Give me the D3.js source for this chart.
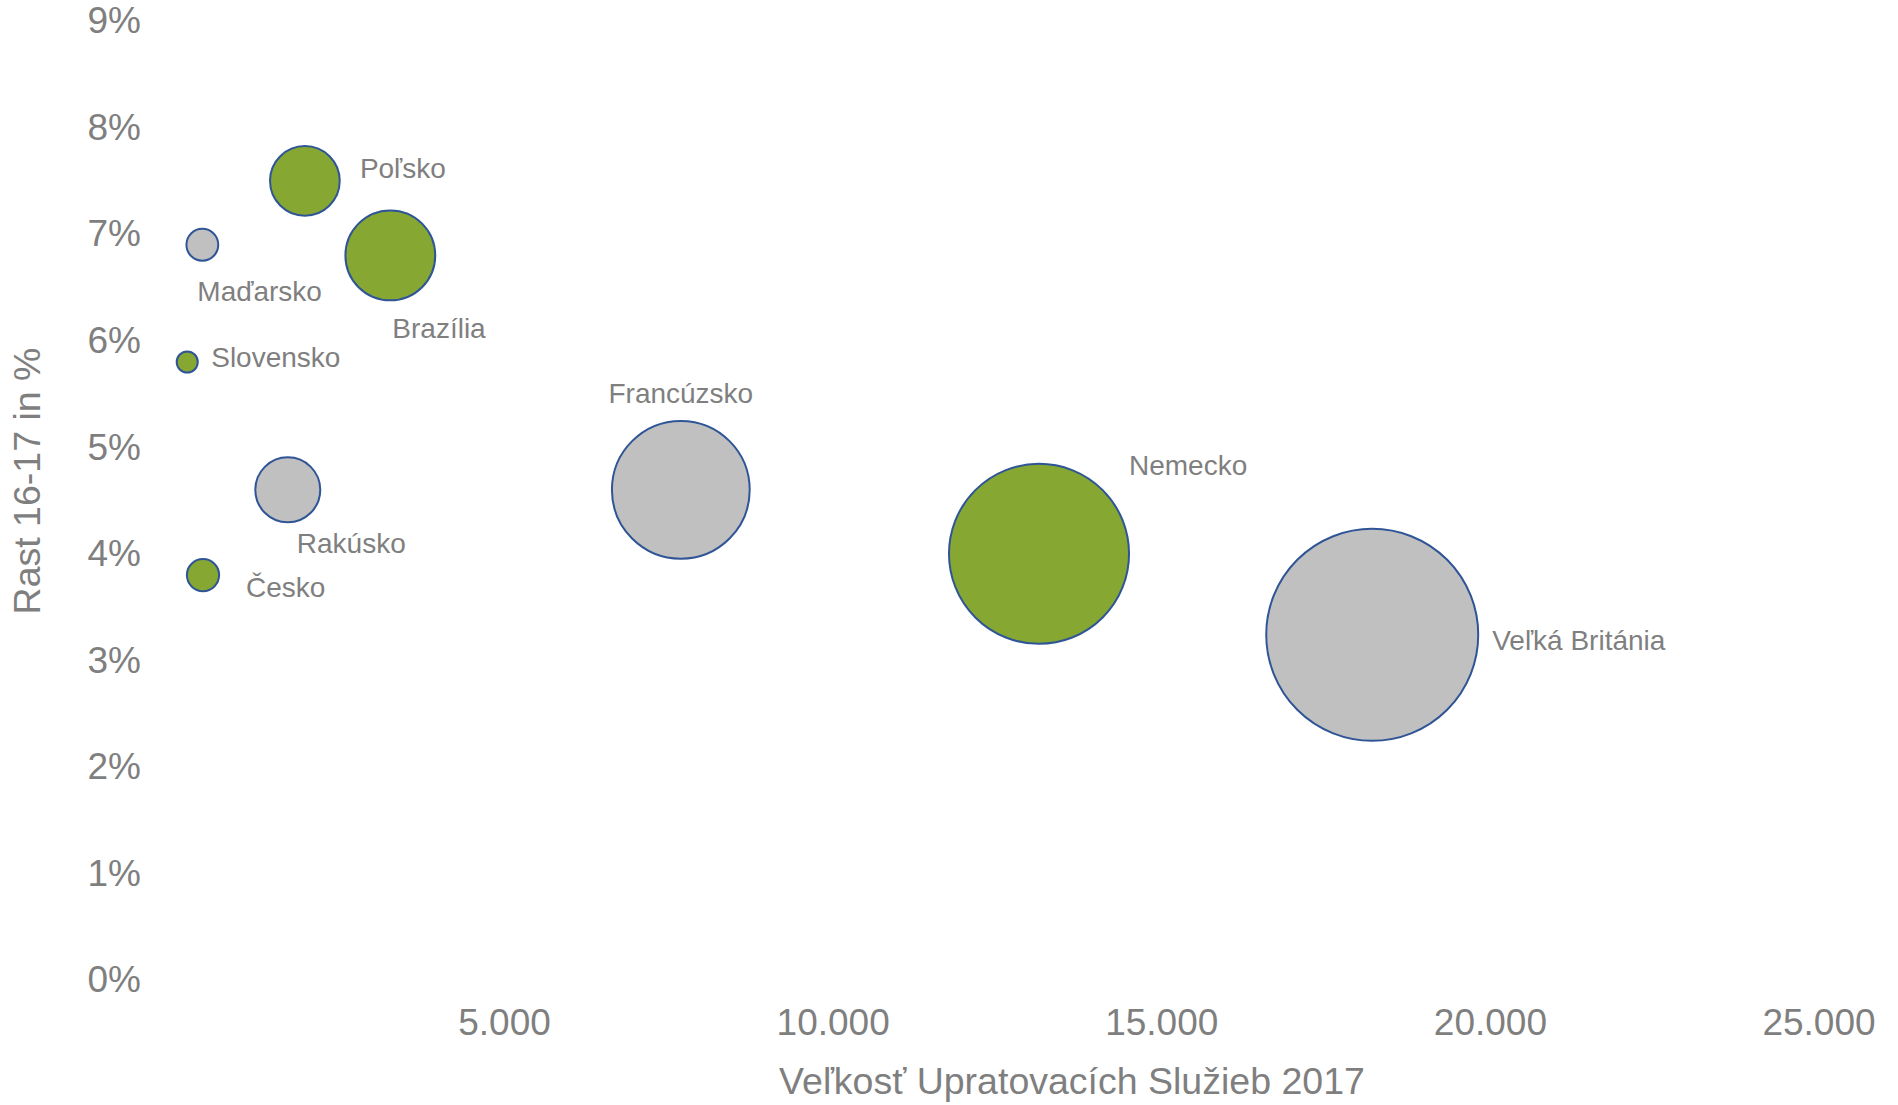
<!DOCTYPE html>
<html>

<head>
  <meta charset="utf-8">
  <title>Rast vs. veľkosť upratovacích služieb</title>

  <style>
    body {
      margin: 0;
      background: #fff;
    }

    svg text {
      font-family: "Liberation Sans", Arial, sans-serif;
      fill: #7f7f7f;
    }

    .axis text {
      font-size: 37px;
    }

    .axis-title {
      font-size: 37.5px;
    }

    .bubble-label {
      font-size: 28px;
    }

    .bubble {
      stroke: #2f5597;
      stroke-width: 2px;
    }
  </style>
</head>

<body>
  <svg class="bubble-chart" width="1898" height="1105"></svg>

  <script src="https://d3js.org/d3.v7.min.js"></script>

  <script>
    // values
    var countries = ['Poľsko', 'Maďarsko', 'Brazília', 'Slovensko', 'Rakúsko', 'Česko', 'Francúzsko', 'Nemecko', 'Veľká Británia'];
    var marketSize = [1970, 410, 3270, 180, 1710, 420, 7690, 13140, 18210];   // x and bubble size
    var growth = [0.075, 0.069, 0.068, 0.058, 0.046, 0.038, 0.046, 0.040, 0.0324];
    var group = ['green', 'grey', 'green', 'green', 'grey', 'green', 'grey', 'green', 'grey'];

    var xTicks = [5000, 10000, 15000, 20000, 25000];
    var yTicks = [0, 0.01, 0.02, 0.03, 0.04, 0.05, 0.06, 0.07, 0.08, 0.09];

    var xTitle = 'Veľkosť Upratovacích Služieb 2017';
    var yTitle = 'Rast 16-17 in %';

    var fills = { green: '#86a832', grey: '#c0c0c0' };

    // where each label sits relative to its bubble (layout, not data)
    var labelPlacement = {
      'Poľsko': { dx: 55, dy: -3, anchor: 'start' },
      'Maďarsko': { dx: -5, dy: 56, anchor: 'start' },
      'Brazília': { dx: 2, dy: 83, anchor: 'start' },
      'Slovensko': { dx: 24, dy: 5, anchor: 'start' },
      'Rakúsko': { dx: 9, dy: 63, anchor: 'start' },
      'Česko': { dx: 43, dy: 22, anchor: 'start' },
      'Francúzsko': { dx: 0, dy: -87, anchor: 'middle' },
      'Nemecko': { dx: 90, dy: -79, anchor: 'start' },
      'Veľká Británia': { dx: 120, dy: 15, anchor: 'start' }
    };

    var svg = d3.select('svg.bubble-chart');

    var xScale = d3.scaleLinear().domain([0, 25000]).range([175.4, 1818.5]);
    var yScale = d3.scaleLinear().domain([0, 0.09]).range([980, 21]);
    var rScale = d3.scaleSqrt().domain([0, d3.max(marketSize)]).range([0, 106]);

    var numberFormat = d3.formatLocale({ decimal: ',', thousands: '.', grouping: [3], currency: ['', ' €'] }).format(',.0f');

    // y axis
    var yAxis = svg.append('g')
      .attr('class', 'axis y-axis')
      .attr('transform', 'translate(141,0)')
      .call(d3.axisLeft(yScale).tickValues(yTicks).tickSize(0).tickPadding(0).tickFormat(d3.format('.0%')));
    yAxis.select('.domain').remove();
    yAxis.attr('font-family', null).attr('font-size', null);

    // x axis
    var xAxis = svg.append('g')
      .attr('class', 'axis x-axis')
      .attr('transform', 'translate(0,1009)')
      .call(d3.axisBottom(xScale).tickValues(xTicks).tickSize(0).tickPadding(0).tickFormat(numberFormat));
    xAxis.select('.domain').remove();
    xAxis.attr('font-family', null).attr('font-size', null);

    // axis titles
    svg.append('text')
      .attr('class', 'axis-title')
      .attr('x', 1072)
      .attr('y', 1094)
      .attr('text-anchor', 'middle')
      .text(xTitle);

    svg.append('text')
      .attr('class', 'axis-title')
      .attr('transform', 'translate(40,481) rotate(-90)')
      .attr('text-anchor', 'middle')
      .text(yTitle);

    var points = countries.map(function(name, i) {
      return { name: name, size: marketSize[i], growth: growth[i], group: group[i] };
    });

    svg.append('g')
      .selectAll('circle')
      .data(points)
      .enter().append('circle')
      .attr('class', 'bubble')
      .attr('cx', function(d) { return xScale(d.size); })
      .attr('cy', function(d) { return yScale(d.growth); })
      .attr('r', function(d) { return rScale(d.size); })
      .attr('fill', function(d) { return fills[d.group]; });

    svg.append('g')
      .selectAll('text')
      .data(points)
      .enter().append('text')
      .attr('class', 'bubble-label')
      .attr('x', function(d) { return xScale(d.size) + labelPlacement[d.name].dx; })
      .attr('y', function(d) { return yScale(d.growth) + labelPlacement[d.name].dy; })
      .attr('text-anchor', function(d) { return labelPlacement[d.name].anchor; })
      .text(function(d) { return d.name; });
  </script>
</body>

</html>
